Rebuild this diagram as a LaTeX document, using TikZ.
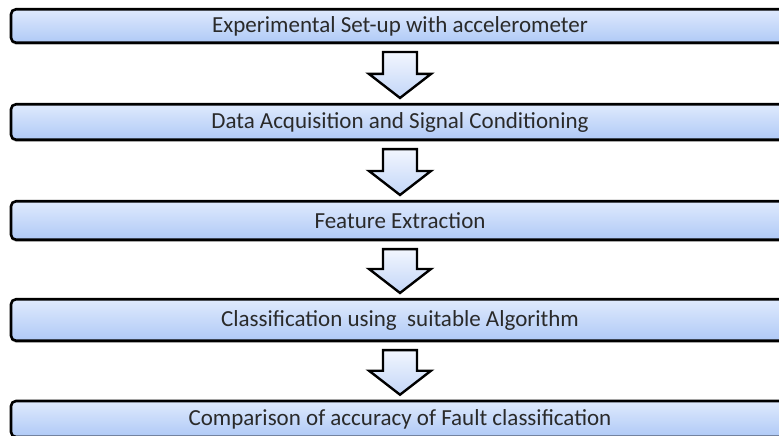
\documentclass[tikz,border=0pt]{standalone}
\usepackage{fontspec}
\setmainfont{Carlito}
\usetikzlibrary{calc,shadows}
\definecolor{boxtop}{HTML}{DFEAFD}
\definecolor{boxbot}{HTML}{AFC9F6}
\definecolor{arrtop}{HTML}{F2F6FE}
\definecolor{arrbot}{HTML}{C3D6F8}
\definecolor{txt}{HTML}{2A2A2A}
\tikzset{
  stagebox/.style={rectangle, rounded corners=5pt, draw=black, line width=2.6pt,
    top color=boxtop, bottom color=boxbot, minimum width=778pt,
    text=txt, font=\fontsize{23}{25}\selectfont, inner sep=0pt,
    drop shadow={shadow xshift=0pt, shadow yshift=-2pt, opacity=0.25, fill=black}},
  blockarrow/.style={draw=black, line width=2.4pt, line join=miter,
    top color=arrtop, bottom color=arrbot}
}
\newcommand{\downblock}[2]{%
  \path[blockarrow] let \p1=(#1.south), \p2=(#2.north) in
    (\x1-17pt,\y1-8pt) -- (\x1+17pt,\y1-8pt) -- (\x1+17pt,\y2+29pt) --
    (\x1+31pt,\y2+29pt) -- (\x1,\y2+5pt) -- (\x1-31pt,\y2+29pt) --
    (\x1-17pt,\y2+29pt) -- cycle;}
\begin{document}
\begin{tikzpicture}[x=1pt,y=-1pt]
  \fill[white] (0,0) rectangle (779,436);
  \clip (0,0) rectangle (779,436);
  \node[stagebox, minimum height=33.5pt] (b1) at (400,26) {Experimental Set-up with accelerometer};
  \node[stagebox, minimum height=35.5pt] (b2) at (400,122) {Data Acquisition and Signal Conditioning};
  \node[stagebox, minimum height=38.5pt] (b3) at (400,220.5) {Feature Extraction};
  \node[stagebox, minimum height=41.5pt] (b4) at (400,320) {Classification using\ \ suitable Algorithm};
  \node[stagebox, minimum height=36pt] (b5) at (400,419) {Comparison of accuracy of Fault classification};
  \downblock{b1}{b2}
  \downblock{b2}{b3}
  \downblock{b3}{b4}
  \downblock{b4}{b5}
\end{tikzpicture}
\end{document}
